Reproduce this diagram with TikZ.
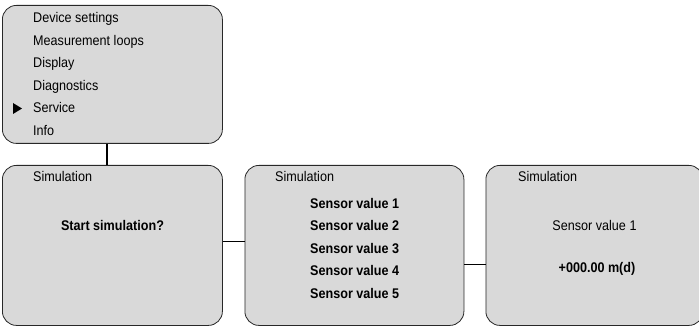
\documentclass[tikz,border=0pt]{standalone}
\usepackage{fontspec}
\setmainfont{Liberation Sans}[FakeStretch=0.9]
\definecolor{boxgray}{RGB}{217,217,217}
\definecolor{edgegray}{RGB}{40,40,40}
\tikzset{
  panel/.style={draw=edgegray, line width=0.8pt, fill=boxgray, rounded corners=14pt,
    inner sep=0pt, anchor=north west},
  lbl/.style={anchor=base west, inner sep=0pt, font=\fontsize{14}{16}\selectfont},
  clbl/.style={anchor=base, inner sep=0pt, font=\fontsize{14}{16}\selectfont},
  bl/.style={font=\fontsize{14}{16}\selectfont\bfseries},
  link/.style={draw=black, line width=1.2pt}
}
\begin{document}
\begin{tikzpicture}[x=1pt,y=-1pt]
\useasboundingbox (0,0) rectangle (699,326);
% panels
\node[panel, minimum width=220pt, minimum height=138pt] (menu) at (2,5) {};
\node[panel, minimum width=220pt, minimum height=160pt] (b1) at (2,165) {};
\node[panel, minimum width=219pt, minimum height=160pt] (b2) at (244.5,165) {};
\node[panel, minimum width=217pt, minimum height=160pt] (b3) at (485.5,165) {};
% connectors
\coordinate (vx) at (107,0);
\coordinate (h1) at (0,241.7);
\coordinate (h2) at (0,264.3);
\draw[link] (menu.south -| vx) -- (b1.north -| vx);
\draw[link] (b1.east |- h1) -- (b2.west |- h1);
\draw[link] (b2.east |- h2) -- (b3.west |- h2);
% menu texts
\node[lbl] (m1) at (33,22.5) {Device settings};
\node[lbl] (m2) at (33,45.1) {Measurement loops};
\node[lbl] (m3) at (33,67.7) {Display};
\node[lbl] (m4) at (33,90.3) {Diagnostics};
\node[lbl] (m5) at (33,112.9) {Service};
\node[lbl] (m6) at (33,135.5) {Info};
\fill[black] (13,103) -- (22,108.5) -- (13,114) -- cycle;
% box 1
\node[lbl] (s1) at (33,182) {Simulation};
\node[clbl, bl] (q1) at (112.5,230) {Start simulation?};
% box 2
\node[lbl] (s2) at (275,182) {Simulation};
\node[lbl, bl] (v1) at (310,208) {Sensor value 1};
\node[lbl, bl] (v2) at (310,230.5) {Sensor value 2};
\node[lbl, bl] (v3) at (310,253) {Sensor value 3};
\node[lbl, bl] (v4) at (310,275.5) {Sensor value 4};
\node[lbl, bl] (v5) at (310,298) {Sensor value 5};
% box 3
\node[lbl] (s3) at (518,182) {Simulation};
\node[clbl] (r1) at (594.5,230) {Sensor value 1};
\node[clbl, bl] (r2) at (597,272) {+000.00 m(d)};
\end{tikzpicture}
\end{document}
